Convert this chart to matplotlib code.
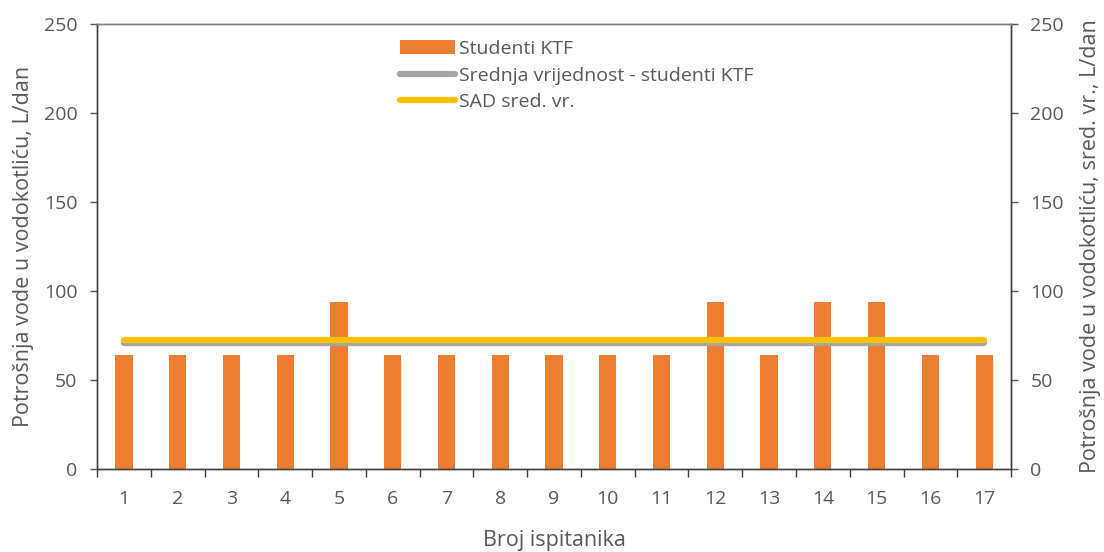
import matplotlib
matplotlib.use("Agg")
import matplotlib.pyplot as plt
from matplotlib.ticker import FixedLocator, NullFormatter

# Water use per flush-tank per respondent (L/day)
respondents = [str(i) for i in range(1, 18)]
students_ktf = [64, 64, 64, 64, 94, 64, 64, 64, 64, 64, 64, 94, 64, 94, 94, 64, 64]
mean_ktf = sum(students_ktf) / len(students_ktf)
usa_mean = 72.5

TEXT = "#595959"
plt.rcParams["font.family"] = ["Open Sans", "DejaVu Sans"]

fig = plt.figure(figsize=(11.04, 5.52), dpi=100)
ax = fig.add_axes([0.0879, 0.1504, 0.8279, 0.8061])

x = list(range(len(respondents)))
ax.bar(x, students_ktf, width=0.32, color="#ED7D31", label="Studenti KTF", zorder=2)

ax2 = ax.twinx()
ax2.plot(x, [mean_ktf] * len(x), color="#A5A5A5", lw=4.5, solid_capstyle="round",
         label="Srednja vrijednost - studenti KTF", zorder=3)
ax2.plot(x, [usa_mean] * len(x), color="#FFC000", lw=4.5, solid_capstyle="round",
         label="SAD sred. vr.", zorder=4)

for a in (ax, ax2):
    a.set_ylim(0, 250)
    a.set_yticks(range(0, 251, 50))
    a.tick_params(axis="y", colors=TEXT, labelsize=14, length=5, width=1,
                  direction="out", pad=9)
    for s in a.spines.values():
        s.set_color("#404040")
        s.set_linewidth(1.0)
    a.spines["top"].set_color("#808080")

ax.set_xlim(-0.5, len(x) - 0.5)
ax.set_xticks(x)
ax.set_xticklabels(respondents)
ax.xaxis.set_minor_locator(FixedLocator([i - 0.5 for i in range(len(x) + 1)]))
ax.xaxis.set_minor_formatter(NullFormatter())
ax.tick_params(axis="x", which="major", length=0, colors=TEXT, labelsize=14, pad=15)
ax.tick_params(axis="x", which="minor", length=6, width=1, color="#404040")

ax.set_xlabel("Broj ispitanika", color=TEXT, fontsize=15.5, labelpad=16)
ax.set_ylabel("Potrošnja vode u vodokotliću, L/dan", color=TEXT, fontsize=15.5,
              labelpad=7)
ax2.set_ylabel("Potrošnja vode u vodokotliću, sred. vr., L/dan", color=TEXT,
               fontsize=15.5, labelpad=11)

h1, l1 = ax.get_legend_handles_labels()
h2, l2 = ax2.get_legend_handles_labels()
leg = ax2.legend(h1 + h2, l1 + l2, loc="upper left", bbox_to_anchor=(0.317, 0.995),
                 frameon=False, fontsize=14, handlelength=2.8, handleheight=0.75,
                 handletextpad=0.2, labelspacing=0.45, labelcolor=TEXT,
                 borderaxespad=0.3)

fig.savefig("out.png", dpi=100)
